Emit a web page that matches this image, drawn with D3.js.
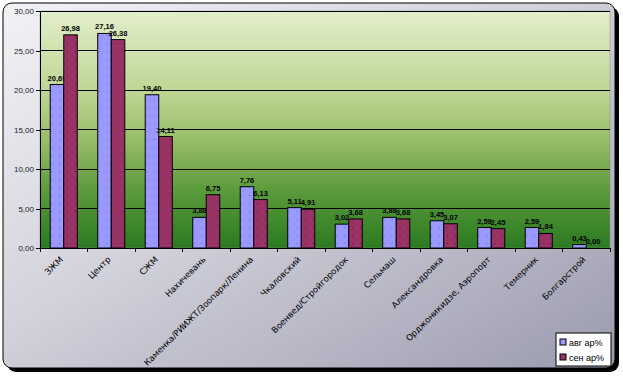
<!DOCTYPE html>
<html lang="ru">
<head>
    <meta charset="UTF-8">
    <title>bar chart</title>
    <script src="https://d3js.org/d3.v7.min.js"></script>
    <style>
        body { margin: 0; background: #fff; }
        svg { display: block; }
    </style>
</head>
<body>
    <svg></svg>
    <script>
        const categories = ["ЗЖМ", "Центр", "СЖМ", "Нахичевань", "Каменка/РИИЖТ/Зоопарк/Ленина",
            "Чкаловский", "Военвед/Стройгородок", "Сельмаш", "Александровка",
            "Орджоникидзе, Аэропорт", "Темерник", "Болгарстрой"];
        const aug = [20.69, 27.16, 19.40, 3.88, 7.76, 5.11, 3.02, 3.88, 3.45, 2.59, 2.59, 0.43];
        const sep = [26.98, 26.38, 14.11, 6.75, 6.13, 4.91, 3.68, 3.68, 3.07, 2.45, 1.84, 0.00];
        const seriesNames = ["авг ар%", "сен ар%"];
        const yTicks = [0, 5, 10, 15, 20, 25, 30];

        const width = 623, height = 377;
        const plot = {left: 40, top: 11, right: 610, bottom: 248};
        const colors = ["#9999ff", "#993366"];
        const fmt = v => v.toFixed(2).replace(".", ",");

        const svg = d3.select("svg")
            .attr("width", width)
            .attr("height", height);

        const defs = svg.append("defs");

        const bg = defs.append("linearGradient")
            .attr("id", "bg")
            .attr("x1", "0").attr("y1", "0").attr("x2", "1").attr("y2", "1");
        bg.append("stop").attr("offset", "0%").attr("stop-color", "#f2f2f6");
        bg.append("stop").attr("offset", "45%").attr("stop-color", "#d2d2dc");
        bg.append("stop").attr("offset", "100%").attr("stop-color", "#9a9aae");

        const pg = defs.append("linearGradient")
            .attr("id", "pg")
            .attr("x1", "0").attr("y1", "0").attr("x2", "0").attr("y2", "1");
        [["0%", "#e3eecb"], ["35%", "#bcd592"], ["55%", "#97bd66"],
         ["75%", "#5c9c3c"], ["100%", "#2b7a21"]].forEach(s =>
            pg.append("stop").attr("offset", s[0]).attr("stop-color", s[1]));

        // dotted fill for bars
        colors.forEach((c, i) => {
            const p = defs.append("pattern")
                .attr("id", "dots" + i)
                .attr("width", 8).attr("height", 8)
                .attr("patternUnits", "userSpaceOnUse");
            p.append("rect").attr("width", 8).attr("height", 8).attr("fill", c);
            p.append("rect").attr("x", 3).attr("y", 3).attr("width", 1).attr("height", 1)
                .attr("fill", i === 0 ? "#6a6ad8" : "#5a1a3a");
        });

        // outer frame with shadow
        svg.append("rect")
            .attr("x", 7).attr("y", 7)
            .attr("width", 612).attr("height", 365)
            .attr("rx", 9)
            .attr("fill", "#000");
        svg.append("rect")
            .attr("x", 3).attr("y", 3)
            .attr("width", 612).attr("height", 365)
            .attr("rx", 9)
            .attr("fill", "url(#bg)")
            .attr("stroke", "#000")
            .attr("stroke-width", 1);

        svg.append("rect")
            .attr("x", plot.left).attr("y", plot.top)
            .attr("width", plot.right - plot.left)
            .attr("height", plot.bottom - plot.top)
            .attr("fill", "url(#pg)")
            .attr("stroke", "#8a8a8a")
            .attr("stroke-width", 0.5);

        const x = d3.scaleBand()
            .domain(categories)
            .range([plot.left, plot.right]);
        const y = d3.scaleLinear()
            .domain([0, 30])
            .range([plot.bottom, plot.top]);

        // gridlines
        svg.append("g")
            .selectAll("line")
            .data(yTicks.slice(1))
            .join("line")
            .attr("x1", plot.left).attr("x2", plot.right)
            .attr("y1", d => y(d)).attr("y2", d => y(d))
            .attr("stroke", "#000")
            .attr("stroke-width", 1)
            .attr("shape-rendering", "crispEdges");

        // y axis
        const yAxis = svg.append("g")
            .attr("transform", `translate(${plot.left},0)`)
            .call(d3.axisLeft(y).tickValues(yTicks).tickFormat(fmt).tickSize(4).tickPadding(2));
        yAxis.selectAll("path, line").attr("stroke", "#000").attr("shape-rendering", "crispEdges");
        yAxis.selectAll("text")
            .attr("font-family", "Liberation Sans, Arial, sans-serif")
            .attr("font-size", 8)
            .attr("fill", "#222");

        // bars
        const barW = x.bandwidth() * 0.285;
        const sub = d3.scaleBand()
            .domain([0, 1])
            .range([x.bandwidth() / 2 - barW, x.bandwidth() / 2 + barW]);

        const groups = svg.append("g")
            .selectAll("g")
            .data(categories)
            .join("g")
            .attr("transform", d => `translate(${x(d)},0)`);

        [aug, sep].forEach((vals, si) => {
            groups.append("rect")
                .attr("x", sub(si))
                .attr("width", sub.bandwidth())
                .attr("y", (d, i) => y(vals[i]))
                .attr("height", (d, i) => y(0) - y(vals[i]))
                .attr("fill", `url(#dots${si})`)
                .attr("stroke", "#000")
                .attr("stroke-width", 1);
            groups.append("text")
                .attr("x", sub(si) + sub.bandwidth() / 2)
                .attr("y", (d, i) => y(vals[i]) - 4)
                .attr("text-anchor", "middle")
                .attr("font-family", "Liberation Sans, Arial, sans-serif")
                .attr("font-size", 7.5)
                .attr("font-weight", "bold")
                .attr("fill", "#000")
                .text((d, i) => fmt(vals[i]));
        });

        // x axis
        svg.append("g")
            .attr("transform", `translate(0,${plot.bottom})`)
            .call(d3.axisBottom(x).tickSize(0).tickFormat(""))
            .call(g => g.select("path").attr("stroke", "#000").attr("shape-rendering", "crispEdges"))
            .call(g => g.selectAll(".tick").remove());
        svg.append("g")
            .selectAll("line")
            .data(d3.range(categories.length + 1))
            .join("line")
            .attr("x1", i => plot.left + i * x.step())
            .attr("x2", i => plot.left + i * x.step())
            .attr("y1", plot.bottom).attr("y2", plot.bottom + 4)
            .attr("stroke", "#000")
            .attr("shape-rendering", "crispEdges");

        svg.append("g")
            .selectAll("text")
            .data(categories)
            .join("text")
            .attr("transform", d => `translate(${x(d) + x.bandwidth() / 2},${plot.bottom + 12}) rotate(-45)`)
            .attr("text-anchor", "end")
            .attr("font-family", "DejaVu Sans, sans-serif")
            .attr("font-size", 8.5)
            .attr("fill", "#000")
            .text(d => d);

        // legend
        const legend = svg.append("g").attr("transform", "translate(556,333)");
        legend.append("rect")
            .attr("width", 55).attr("height", 33)
            .attr("fill", "#fff")
            .attr("stroke", "#000");
        seriesNames.forEach((name, i) => {
            legend.append("rect")
                .attr("x", 4).attr("y", 6 + i * 15)
                .attr("width", 6).attr("height", 6)
                .attr("fill", colors[i])
                .attr("stroke", "#000");
            legend.append("text")
                .attr("x", 13).attr("y", 13 + i * 15)
                .attr("font-family", "Liberation Sans, Arial, sans-serif")
                .attr("font-size", 9)
                .attr("fill", "#000")
                .text(name);
        });
    </script>
</body>
</html>
